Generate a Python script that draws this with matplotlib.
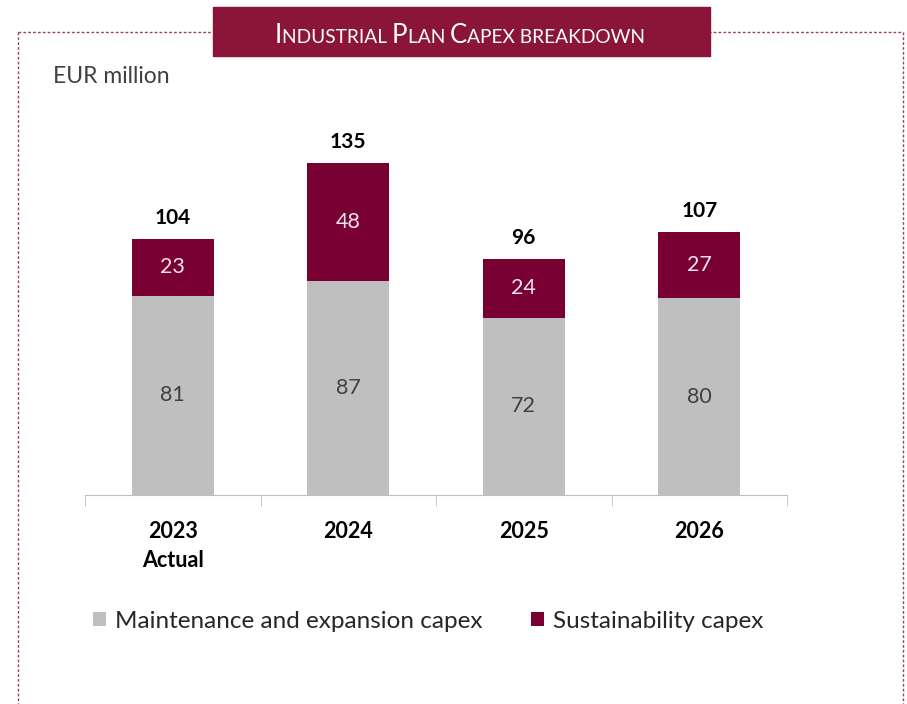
import matplotlib.pyplot as plt
from matplotlib.patches import Rectangle
from matplotlib.lines import Line2D

years = ['2023\nActual', '2024', '2025', '2026']
maintenance = [81, 87, 72, 80]
sustainability = [23, 48, 24, 27]
totals = [104, 135, 96, 107]

grey = '#BFBFBF'
maroon = '#780032'
title_red = '#8B1538'
font = ['Lato', 'DejaVu Sans']
plt.rcParams['font.family'] = font

W, H = 907, 704
fig = plt.figure(figsize=(W / 100, H / 100), dpi=100)
renderer = fig.canvas.get_renderer()


def fx(px):
    return px / W


def fy(py):
    return 1 - py / H


# dashed frame around the panel
frame_kw = dict(color='#A0425E', lw=1.0, ls=(0, (2, 1.5)), transform=fig.transFigure)
fig.add_artist(Line2D([fx(18), fx(903)], [fy(32), fy(32)], **frame_kw))
fig.add_artist(Line2D([fx(18), fx(18)], [fy(32), fy(710)], **frame_kw))
fig.add_artist(Line2D([fx(903), fx(903)], [fy(32), fy(710)], **frame_kw))

# title box
fig.add_artist(Rectangle((fx(213), fy(56)), fx(710) - fx(213), fy(7) - fy(56),
                         transform=fig.transFigure, color=title_red, zorder=3))

# small caps title: measure the pieces first, then lay them out on one baseline
pieces = [('I', 18.5), ('NDUSTRIAL ', 13.8), ('P', 18.5), ('LAN ', 13.8), ('C', 18.5), ('APEX BREAKDOWN', 13.8)]
texts = []
for txt, size in pieces:
    t = fig.text(0, fy(43), txt, color='white', fontsize=size, ha='left', va='baseline', zorder=4)
    texts.append(t)
widths = [t.get_window_extent(renderer).width for t in texts]
total = sum(widths)
xpos = 460 - total / 2
for t, w in zip(texts, widths):
    t.set_x(fx(xpos))
    xpos += w

fig.text(fx(53), fy(83), 'EUR million', fontsize=16.5, color='#404040', ha='left', va='baseline')

# main axes
ax = fig.add_axes([fx(85), fy(495), fx(787) - fx(85), fy(126) - fy(495)])
x = range(len(years))
width = 0.47
ax.bar(x, maintenance, width, color=grey, label='Maintenance and expansion capex')
ax.bar(x, sustainability, width, bottom=maintenance, color=maroon, label='Sustainability capex')

for i in x:
    ax.text(i, maintenance[i] / 2, str(maintenance[i]), ha='center', va='center',
            fontsize=15.5, color='#404040')
    ax.text(i, maintenance[i] + sustainability[i] / 2, str(sustainability[i]), ha='center',
            va='center', fontsize=15.5, color='#F2E4EA')
    ax.annotate(str(totals[i]), (i, totals[i]), xytext=(0, 8), textcoords='offset points',
                ha='center', va='bottom', fontsize=15, fontweight='bold', color='black')

ax.set_xlim(-0.5, 3.5)
ax.set_ylim(0, 150)
for s in ['top', 'right', 'left']:
    ax.spines[s].set_visible(False)
ax.spines['bottom'].set_color('#BFBFBF')
ax.set_yticks([])
ax.set_xticks(list(x))
ax.set_xticklabels(years, fontsize=15.5, fontweight='bold', linespacing=1.45)
ax.tick_params(axis='x', which='major', length=0, pad=19)
ax.set_xticks([-0.5, 0.5, 1.5, 2.5, 3.5], minor=True)
ax.tick_params(axis='x', which='minor', length=8, color='#BFBFBF')

leg = fig.legend(loc='center', bbox_to_anchor=(fx(428), fy(621)), ncol=2, frameon=False,
                 fontsize=17.5, handlelength=0.55, handleheight=0.55, handletextpad=0.35,
                 columnspacing=2.0, labelcolor='#262626')

fig.savefig('out.png', dpi=100)
